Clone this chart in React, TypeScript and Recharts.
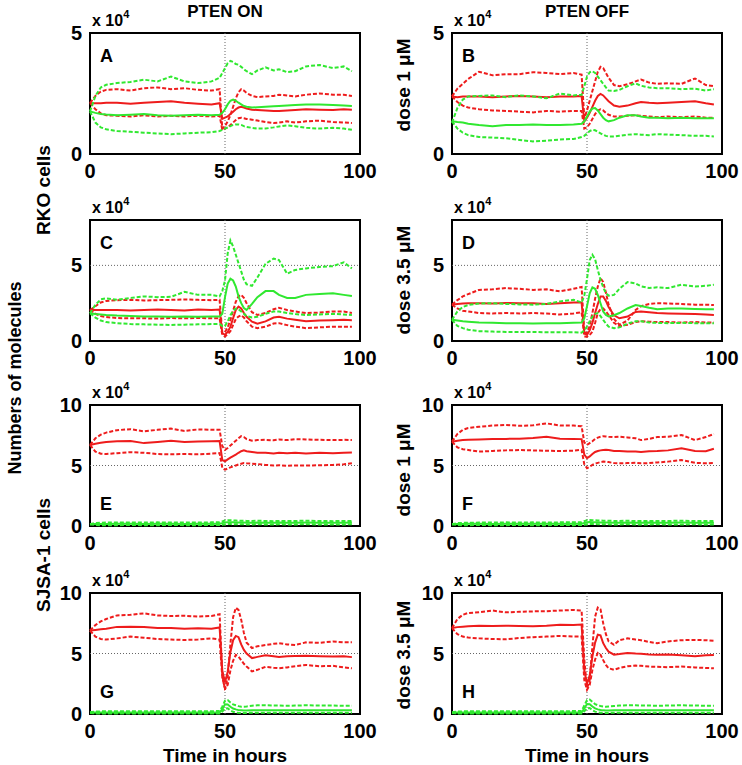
import React from 'react';
import { LineChart, Line, XAxis, YAxis, ReferenceLine, ReferenceArea } from 'recharts';

// time axis shared by every panel (hours)
const hours = [0, 2, 4, 6, 10, 15, 20, 25, 30, 35, 40, 45, 48, 49, 50, 51, 52, 53, 54, 55, 56, 57, 58, 60, 62, 65, 68, 70, 73, 76, 80, 85, 90, 94, 97];

const xTicks = [0, 50, 100];
const yTicksSmall = [0, 5];
const yTicksLarge = [0, 5, 10];

// values in units of 10^4 molecules
const aRedHi = [2.1, 2.4, 2.58, 2.65, 2.68, 2.62, 2.72, 2.75, 2.68, 2.72, 2.65, 2.62, 2.68, 1.05, 1.15, 1.35, 1.6, 1.95, 2.3, 2.55, 2.68, 2.62, 2.52, 2.4, 2.35, 2.38, 2.4, 2.45, 2.42, 2.38, 2.45, 2.5, 2.45, 2.45, 2.4];
const aRedMean = [2.1, 2.1, 2.1, 2.12, 2.12, 2.08, 2.12, 2.15, 2.18, 2.12, 2.08, 2.05, 2.1, 1.45, 1.5, 1.55, 1.65, 1.75, 1.85, 1.92, 1.95, 1.92, 1.88, 1.83, 1.82, 1.8, 1.78, 1.78, 1.8, 1.82, 1.85, 1.83, 1.82, 1.85, 1.83];
const aRedLo = [2.1, 1.85, 1.68, 1.6, 1.58, 1.55, 1.6, 1.55, 1.58, 1.55, 1.58, 1.55, 1.58, 1.0, 1.05, 1.1, 1.2, 1.3, 1.4, 1.48, 1.5, 1.48, 1.45, 1.42, 1.38, 1.32, 1.28, 1.3, 1.35, 1.3, 1.35, 1.38, 1.32, 1.3, 1.28];
const aGreenHi = [1.76, 2.4, 2.75, 2.86, 2.93, 2.98, 3.07, 3.0, 3.2, 3.0, 2.93, 3.0, 3.15, 3.35, 3.55, 3.75, 3.85, 3.8, 3.72, 3.69, 3.6, 3.5, 3.42, 3.3, 3.45, 3.58, 3.45, 3.5, 3.38, 3.42, 3.62, 3.68, 3.55, 3.62, 3.42];
const aGreenMean = [1.76, 1.7, 1.65, 1.63, 1.6, 1.62, 1.65, 1.6, 1.58, 1.6, 1.62, 1.6, 1.62, 1.7, 1.85, 2.05, 2.2, 2.25, 2.2, 2.12, 2.05, 1.98, 1.95, 1.92, 1.93, 1.95, 1.97, 1.98, 2.0, 2.02, 2.05, 2.05, 2.02, 2.0, 1.98];
const aGreenLo = [1.76, 1.3, 1.1, 1.02, 0.95, 0.92, 0.88, 0.85, 0.82, 0.85, 0.88, 0.9, 0.95, 1.0, 1.05, 1.1, 1.15, 1.2, 1.22, 1.22, 1.2, 1.15, 1.12, 1.08, 1.05, 1.05, 1.1, 1.14, 1.18, 1.15, 1.08, 1.05, 1.08, 1.05, 1.0];

const bRedHi = [2.38, 2.7, 2.9, 3.1, 3.4, 3.25, 3.3, 3.3, 3.38, 3.35, 3.3, 3.35, 3.28, 1.5, 1.8, 2.2, 2.6, 3.0, 3.4, 3.6, 3.55, 3.35, 3.15, 2.85, 2.8, 2.88, 3.0, 3.08, 2.95, 2.9, 2.92, 2.9, 3.12, 2.85, 2.8];
const bRedMean = [2.38, 2.35, 2.38, 2.38, 2.38, 2.35, 2.38, 2.4, 2.38, 2.35, 2.38, 2.38, 2.4, 1.35, 1.5, 1.7, 1.95, 2.2, 2.4, 2.48, 2.42, 2.3, 2.18, 2.0, 1.95, 2.0, 2.1, 2.15, 2.12, 2.1, 2.12, 2.15, 2.18, 2.1, 2.05];
const bRedLo = [2.38, 2.15, 2.0, 1.92, 1.85, 1.8, 1.78, 1.75, 1.72, 1.78, 1.75, 1.78, 1.78, 1.05, 1.1, 1.25, 1.45, 1.65, 1.8, 1.85, 1.8, 1.7, 1.62, 1.55, 1.55, 1.58, 1.6, 1.58, 1.55, 1.52, 1.55, 1.52, 1.55, 1.5, 1.5];
const bGreenHi = [1.3, 1.9, 2.25, 2.38, 2.4, 2.42, 2.35, 2.42, 2.38, 2.3, 2.5, 2.42, 2.45, 2.8, 3.2, 3.38, 3.42, 3.35, 3.2, 3.05, 2.9, 2.75, 2.62, 2.6, 2.65, 2.8, 2.92, 2.82, 2.75, 2.72, 2.72, 2.68, 2.7, 2.62, 2.68];
const bGreenMean = [1.35, 1.32, 1.3, 1.25, 1.2, 1.15, 1.2, 1.2, 1.22, 1.2, 1.2, 1.22, 1.25, 1.35, 1.55, 1.75, 1.88, 1.9, 1.8, 1.65, 1.5, 1.4, 1.35, 1.4, 1.5, 1.6, 1.6, 1.55, 1.5, 1.5, 1.48, 1.5, 1.48, 1.48, 1.48];
const bGreenLo = [1.35, 1.05, 0.88, 0.78, 0.7, 0.68, 0.65, 0.58, 0.52, 0.55, 0.6, 0.62, 0.7, 0.75, 0.85, 0.95, 1.0, 0.98, 0.92, 0.85, 0.8, 0.75, 0.72, 0.72, 0.75, 0.8, 0.82, 0.8, 0.78, 0.82, 0.8, 0.78, 0.75, 0.75, 0.72];

const cRedHi = [2.05, 2.3, 2.55, 2.65, 2.7, 2.72, 2.68, 2.7, 2.72, 2.75, 2.72, 2.7, 2.72, 0.55, 0.6, 0.9, 1.4, 2.0, 2.6, 2.95, 3.05, 2.85, 2.5, 1.9, 1.72, 1.85, 2.1, 2.2, 2.05, 1.95, 1.85, 1.88, 1.95, 1.95, 1.85];
const cRedMean = [2.05, 2.05, 2.05, 2.05, 2.05, 2.02, 2.05, 2.08, 2.05, 2.02, 2.08, 2.05, 2.08, 0.5, 0.42, 0.6, 0.95, 1.5, 2.05, 2.28, 2.15, 1.85, 1.6, 1.28, 1.15, 1.3, 1.55, 1.6, 1.48, 1.4, 1.3, 1.35, 1.38, 1.4, 1.38];
const cRedLo = [2.05, 1.8, 1.65, 1.58, 1.52, 1.5, 1.5, 1.48, 1.52, 1.5, 1.52, 1.5, 1.5, 0.4, 0.3, 0.45, 0.65, 1.05, 1.45, 1.62, 1.7, 1.55, 1.3, 0.95, 0.85, 0.95, 1.15, 1.18, 1.05, 0.95, 0.85, 0.9, 0.95, 0.95, 0.95];
const cGreenHi = [1.83, 2.4, 2.75, 2.82, 2.72, 2.85, 2.95, 2.9, 2.92, 3.25, 3.05, 3.05, 2.95, 3.3, 4.0, 5.8, 6.65, 6.25, 5.7, 5.15, 4.6, 4.05, 3.75, 3.65, 4.2, 5.1, 5.45, 5.35, 4.45, 4.7, 4.8, 4.9, 4.95, 5.2, 4.8];
const cGreenMean = [1.83, 1.78, 1.75, 1.72, 1.68, 1.65, 1.62, 1.62, 1.6, 1.62, 1.6, 1.62, 1.62, 1.8, 2.9, 3.8, 4.12, 4.0, 3.6, 2.95, 2.5, 2.18, 2.05, 2.45, 2.9, 3.3, 3.3, 3.05, 2.85, 2.85, 3.05, 3.1, 3.15, 3.05, 2.97];
const cGreenLo = [1.83, 1.55, 1.35, 1.25, 1.18, 1.12, 1.1, 1.08, 1.06, 1.08, 1.1, 1.12, 1.12, 1.0, 1.0, 1.3, 1.7, 2.0, 2.15, 2.1, 1.95, 1.8, 1.65, 1.55, 1.6, 1.8, 1.95, 1.95, 1.85, 1.78, 1.72, 1.75, 1.8, 1.75, 1.72];

const dRedHi = [2.4, 2.7, 2.95, 3.1, 3.38, 3.42, 3.5, 3.45, 3.38, 3.42, 3.28, 3.45, 3.57, 0.62, 0.5, 1.0, 1.85, 2.8, 3.6, 4.15, 3.9, 3.2, 2.4, 1.45, 1.08, 1.35, 2.05, 2.3, 2.45, 2.5, 2.48, 2.45, 2.4, 2.4, 2.38];
const dRedMean = [2.4, 2.45, 2.48, 2.5, 2.5, 2.48, 2.52, 2.5, 2.5, 2.45, 2.5, 2.55, 2.55, 0.5, 0.4, 0.7, 1.2, 1.85, 2.45, 2.95, 2.95, 2.65, 2.25, 1.7, 1.5, 1.62, 1.92, 1.95, 1.9, 1.85, 1.82, 1.8, 1.78, 1.75, 1.72];
const dRedLo = [2.4, 2.15, 2.0, 1.95, 1.85, 1.82, 1.85, 1.82, 1.85, 1.82, 1.75, 1.82, 1.9, 0.3, 0.28, 0.4, 0.62, 1.2, 1.85, 2.1, 2.15, 1.95, 1.72, 1.2, 0.98, 1.08, 1.25, 1.3, 1.28, 1.25, 1.25, 1.22, 1.25, 1.22, 1.22];
const dGreenHi = [1.4, 1.95, 2.25, 2.38, 2.48, 2.5, 2.45, 2.42, 2.4, 2.45, 2.62, 2.72, 2.55, 3.0, 4.1, 5.35, 5.7, 5.4, 4.7, 4.05, 3.55, 3.15, 3.0, 3.05, 3.45, 3.9, 3.8, 3.62, 3.5, 3.55, 3.5, 3.72, 3.6, 3.65, 3.72];
const dGreenMean = [1.4, 1.35, 1.3, 1.28, 1.22, 1.2, 1.18, 1.18, 1.15, 1.18, 1.18, 1.2, 1.22, 1.5, 2.3, 3.15, 3.55, 3.45, 3.05, 2.5, 1.95, 1.72, 1.62, 1.7, 1.85, 2.15, 2.38, 2.32, 2.2, 2.1, 2.15, 2.15, 2.12, 2.1, 2.1];
const dGreenLo = [1.4, 1.0, 0.85, 0.75, 0.65, 0.62, 0.6, 0.6, 0.6, 0.58, 0.58, 0.58, 0.55, 0.7, 0.95, 1.3, 1.62, 1.8, 1.85, 1.65, 1.4, 1.15, 0.95, 0.85, 0.9, 1.15, 1.3, 1.3, 1.22, 1.2, 1.18, 1.2, 1.18, 1.18, 1.17];

const eRedHi = [6.7, 7.25, 7.55, 7.72, 7.92, 8.0, 7.82, 7.95, 8.05, 7.85, 7.98, 7.95, 7.95, 6.6, 6.3, 6.45, 6.65, 6.85, 7.05, 7.25, 7.42, 7.35, 7.18, 7.05, 7.1, 7.12, 7.08, 7.15, 7.1, 7.18, 7.15, 7.12, 7.1, 7.12, 7.1];
const eRedMean = [6.7, 6.8, 6.88, 6.95, 7.0, 7.02, 6.85, 6.95, 7.05, 6.95, 6.98, 7.0, 7.02, 5.45, 5.35, 5.5, 5.65, 5.78, 5.9, 6.05, 6.18, 6.25, 6.18, 6.12, 6.05, 6.05, 6.0, 6.05, 6.02, 6.05, 6.0, 6.05, 6.02, 6.05, 6.08];
const eRedLo = [6.7, 6.15, 5.98, 5.95, 6.02, 6.1, 6.05, 5.95, 5.92, 5.95, 5.92, 5.98, 6.02, 4.8, 4.65, 4.75, 4.85, 4.92, 5.0, 5.08, 5.15, 5.2, 5.18, 5.15, 5.12, 5.05, 5.0, 5.02, 4.98, 5.0, 5.0, 5.02, 5.05, 5.1, 5.18];
const eGreenHi = [0.15, 0.25, 0.27, 0.28, 0.28, 0.3, 0.28, 0.3, 0.28, 0.3, 0.29, 0.3, 0.3, 0.38, 0.46, 0.48, 0.47, 0.46, 0.45, 0.44, 0.44, 0.43, 0.42, 0.42, 0.43, 0.42, 0.4, 0.42, 0.41, 0.42, 0.43, 0.42, 0.4, 0.42, 0.42];
const eGreenMean = [0.15, 0.16, 0.17, 0.17, 0.18, 0.18, 0.17, 0.18, 0.18, 0.17, 0.18, 0.18, 0.18, 0.24, 0.3, 0.32, 0.31, 0.3, 0.29, 0.28, 0.28, 0.28, 0.27, 0.27, 0.28, 0.27, 0.27, 0.28, 0.27, 0.27, 0.28, 0.27, 0.27, 0.27, 0.28];
const eGreenLo = [0.15, 0.08, 0.07, 0.07, 0.07, 0.08, 0.07, 0.07, 0.08, 0.07, 0.07, 0.08, 0.08, 0.1, 0.14, 0.16, 0.16, 0.15, 0.15, 0.14, 0.14, 0.14, 0.13, 0.13, 0.14, 0.13, 0.13, 0.14, 0.13, 0.13, 0.14, 0.13, 0.13, 0.13, 0.14];

const fRedHi = [6.97, 7.6, 7.95, 8.1, 8.2, 8.3, 8.35, 8.28, 8.32, 8.48, 8.3, 8.3, 8.25, 6.9, 6.7, 6.85, 7.0, 7.2, 7.3, 7.38, 7.42, 7.4, 7.38, 7.35, 7.38, 7.32, 7.25, 7.1, 7.2, 7.35, 7.38, 7.52, 7.1, 7.35, 7.6];
const fRedMean = [6.97, 7.05, 7.1, 7.12, 7.15, 7.18, 7.2, 7.22, 7.28, 7.38, 7.22, 7.2, 7.18, 5.9, 5.6, 5.75, 5.95, 6.12, 6.2, 6.25, 6.28, 6.3, 6.28, 6.2, 6.2, 6.15, 6.15, 6.12, 6.18, 6.2, 6.25, 6.42, 6.2, 6.18, 6.38];
const fRedLo = [6.97, 6.5, 6.35, 6.28, 6.15, 6.2, 6.25, 6.28, 6.25, 6.22, 6.2, 6.22, 6.3, 5.1, 4.78, 4.9, 5.05, 5.15, 5.22, 5.28, 5.32, 5.3, 5.28, 5.2, 5.18, 5.2, 5.22, 5.18, 5.2, 5.25, 5.32, 5.45, 5.22, 5.18, 5.2];
const fGreenHi = [0.15, 0.24, 0.26, 0.27, 0.28, 0.28, 0.3, 0.29, 0.3, 0.28, 0.3, 0.3, 0.31, 0.4, 0.48, 0.5, 0.48, 0.47, 0.46, 0.45, 0.44, 0.44, 0.43, 0.42, 0.42, 0.43, 0.41, 0.42, 0.42, 0.41, 0.42, 0.43, 0.41, 0.42, 0.42];
const fGreenMean = [0.15, 0.16, 0.17, 0.18, 0.18, 0.17, 0.18, 0.18, 0.18, 0.18, 0.18, 0.18, 0.19, 0.25, 0.31, 0.33, 0.32, 0.31, 0.3, 0.29, 0.28, 0.28, 0.28, 0.27, 0.27, 0.28, 0.27, 0.27, 0.28, 0.27, 0.27, 0.28, 0.27, 0.27, 0.27];
const fGreenLo = [0.15, 0.08, 0.07, 0.07, 0.08, 0.07, 0.07, 0.08, 0.07, 0.07, 0.08, 0.07, 0.08, 0.11, 0.15, 0.17, 0.16, 0.16, 0.15, 0.15, 0.14, 0.14, 0.14, 0.13, 0.13, 0.14, 0.13, 0.13, 0.13, 0.14, 0.13, 0.13, 0.14, 0.13, 0.13];

const gRedHi = [6.9, 7.35, 7.65, 7.85, 8.15, 8.2, 8.32, 8.15, 8.1, 8.12, 8.05, 8.1, 8.25, 3.2, 2.0, 3.1, 5.8, 8.0, 8.78, 8.6, 7.8, 6.7, 5.9, 5.45, 5.6, 5.7, 5.8, 5.85, 5.75, 5.7, 5.92, 5.88, 6.0, 5.92, 5.92];
const gRedMean = [6.9, 6.95, 7.0, 7.05, 7.2, 7.22, 7.18, 7.1, 7.1, 7.05, 7.08, 7.05, 7.15, 3.6, 2.6, 3.5, 5.1, 6.1, 6.45, 6.35, 5.75, 5.3, 5.0, 4.62, 4.72, 4.85, 4.78, 4.72, 4.78, 4.8, 4.82, 4.78, 4.75, 4.78, 4.7];
const gRedLo = [6.9, 6.4, 6.2, 6.15, 6.25, 6.4, 6.3, 6.2, 6.15, 6.12, 6.15, 6.25, 6.15, 3.0, 2.1, 2.4, 3.6, 4.4, 4.88, 4.75, 4.45, 4.15, 3.92, 3.52, 3.65, 3.9, 3.82, 3.78, 3.85, 3.95, 4.05, 3.95, 3.98, 3.85, 3.78];
const gGreenHi = [0.15, 0.2, 0.22, 0.22, 0.23, 0.22, 0.23, 0.22, 0.23, 0.22, 0.23, 0.23, 0.25, 0.6, 1.1, 1.15, 0.95, 0.8, 0.72, 0.65, 0.6, 0.6, 0.62, 0.68, 0.72, 0.72, 0.7, 0.7, 0.68, 0.7, 0.72, 0.7, 0.7, 0.68, 0.68];
const gGreenMean = [0.12, 0.12, 0.12, 0.12, 0.13, 0.12, 0.13, 0.12, 0.12, 0.13, 0.12, 0.13, 0.13, 0.4, 0.8, 0.78, 0.6, 0.45, 0.38, 0.32, 0.3, 0.28, 0.28, 0.3, 0.32, 0.32, 0.3, 0.3, 0.31, 0.3, 0.31, 0.3, 0.3, 0.3, 0.3];
const gGreenLo = [0.08, 0.05, 0.04, 0.04, 0.04, 0.05, 0.04, 0.04, 0.05, 0.04, 0.04, 0.05, 0.05, 0.2, 0.45, 0.48, 0.3, 0.18, 0.12, 0.1, 0.09, 0.09, 0.09, 0.1, 0.1, 0.1, 0.1, 0.1, 0.1, 0.1, 0.1, 0.1, 0.1, 0.1, 0.1];

const hRedHi = [7.1, 7.85, 8.2, 8.35, 8.4, 8.55, 8.4, 8.45, 8.48, 8.5, 8.55, 8.6, 8.55, 4.5, 2.1, 2.8, 5.6, 8.05, 8.8, 8.65, 7.5, 6.6, 6.0, 5.72, 6.1, 6.25, 6.15, 6.1, 5.95, 5.85, 6.0, 6.1, 6.12, 6.1, 6.05];
const hRedMean = [7.1, 7.18, 7.22, 7.25, 7.3, 7.28, 7.3, 7.28, 7.25, 7.3, 7.38, 7.35, 7.4, 3.6, 2.5, 3.2, 4.75, 5.9, 6.55, 6.5, 5.85, 5.45, 5.15, 4.9, 4.95, 5.05, 5.0, 4.98, 4.92, 4.9, 4.92, 4.85, 4.78, 4.85, 4.88];
const hRedLo = [7.1, 6.6, 6.4, 6.32, 6.25, 6.2, 6.18, 6.28, 6.35, 6.4, 6.45, 6.4, 6.4, 2.8, 2.0, 2.4, 3.65, 4.5, 5.05, 4.9, 4.45, 4.05, 3.78, 3.65, 3.8, 3.95, 4.0, 3.98, 3.92, 3.9, 3.87, 3.92, 3.85, 3.8, 3.78];
const hGreenHi = [0.15, 0.2, 0.22, 0.23, 0.22, 0.23, 0.22, 0.23, 0.23, 0.22, 0.23, 0.24, 0.25, 0.7, 1.15, 1.2, 1.0, 0.82, 0.72, 0.66, 0.62, 0.6, 0.62, 0.66, 0.7, 0.72, 0.72, 0.7, 0.7, 0.68, 0.7, 0.72, 0.7, 0.68, 0.68];
const hGreenMean = [0.12, 0.12, 0.12, 0.13, 0.12, 0.13, 0.12, 0.13, 0.12, 0.12, 0.13, 0.13, 0.13, 0.45, 0.82, 0.8, 0.62, 0.46, 0.38, 0.33, 0.3, 0.29, 0.28, 0.3, 0.31, 0.32, 0.31, 0.3, 0.3, 0.31, 0.3, 0.3, 0.31, 0.3, 0.3];
const hGreenLo = [0.08, 0.05, 0.04, 0.04, 0.05, 0.04, 0.04, 0.05, 0.04, 0.04, 0.05, 0.04, 0.05, 0.22, 0.46, 0.5, 0.32, 0.2, 0.13, 0.1, 0.1, 0.09, 0.09, 0.1, 0.1, 0.1, 0.1, 0.1, 0.1, 0.1, 0.1, 0.1, 0.1, 0.1, 0.1];

const RED = '#ee1c1c';
const GREEN = '#30e830';
const FONT = '"Liberation Sans", Arial, Helvetica, sans-serif';

const COL_X = [90, 452];
const ROW_Y = [33, 220, 405, 593];
const PLOT_W = 270;
const PLOT_H = 121;

const panels = [
  { id: 'A', col: 0, row: 0, yMax: 5, yTicks: yTicksSmall, red: [aRedHi, aRedMean, aRedLo], green: [aGreenHi, aGreenMean, aGreenLo] },
  { id: 'B', col: 1, row: 0, yMax: 5, yTicks: yTicksSmall, red: [bRedHi, bRedMean, bRedLo], green: [bGreenHi, bGreenMean, bGreenLo] },
  { id: 'C', col: 0, row: 1, yMax: 8, yTicks: yTicksSmall, red: [cRedHi, cRedMean, cRedLo], green: [cGreenHi, cGreenMean, cGreenLo] },
  { id: 'D', col: 1, row: 1, yMax: 8, yTicks: yTicksSmall, red: [dRedHi, dRedMean, dRedLo], green: [dGreenHi, dGreenMean, dGreenLo] },
  { id: 'E', col: 0, row: 2, yMax: 10, yTicks: yTicksLarge, red: [eRedHi, eRedMean, eRedLo], green: [eGreenHi, eGreenMean, eGreenLo] },
  { id: 'F', col: 1, row: 2, yMax: 10, yTicks: yTicksLarge, red: [fRedHi, fRedMean, fRedLo], green: [fGreenHi, fGreenMean, fGreenLo] },
  { id: 'G', col: 0, row: 3, yMax: 10, yTicks: yTicksLarge, red: [gRedHi, gRedMean, gRedLo], green: [gGreenHi, gGreenMean, gGreenLo] },
  { id: 'H', col: 1, row: 3, yMax: 10, yTicks: yTicksLarge, red: [hRedHi, hRedMean, hRedLo], green: [hGreenHi, hGreenMean, hGreenLo] },
];

const tickStyle = { fontSize: 20, fontWeight: 'bold', fill: '#000', fontFamily: FONT };
const seriesKeys = ['rHi', 'rMean', 'rLo', 'gHi', 'gMean', 'gLo'];

const Panel = ({ p }: { p: (typeof panels)[number] }) => {
  const rows = hours.map((t, i) => ({
    t,
    rHi: p.red[0][i],
    rMean: p.red[1][i],
    rLo: p.red[2][i],
    gHi: p.green[0][i],
    gMean: p.green[1][i],
    gLo: p.green[2][i],
  }));
  const left = COL_X[p.col];
  const top = ROW_Y[p.row];
  return (
    <div style={{ position: 'absolute', left: left - 60, top: top - 10 }}>
      <LineChart width={PLOT_W + 100} height={PLOT_H + 50} data={rows} margin={{ top: 10, right: 40, bottom: 0, left: 0 }}>
        <XAxis type="number" dataKey="t" domain={[0, 100]} ticks={xTicks} interval={0} tickLine={false} axisLine={false} tickMargin={4} height={40} tick={tickStyle} />
        <YAxis type="number" domain={[0, p.yMax]} ticks={p.yTicks} interval={0} tickLine={false} axisLine={false} width={60} tick={tickStyle} />
        <ReferenceLine x={50} stroke="#666" strokeDasharray="1 2" strokeWidth={1} />
        {p.yMax > 5 && <ReferenceLine y={5} stroke="#666" strokeDasharray="1 2" strokeWidth={1} />}
        {seriesKeys.map((k) => (
          <Line
            key={k}
            type="linear"
            dataKey={k}
            stroke={k[0] === 'r' ? RED : GREEN}
            strokeWidth={2}
            strokeDasharray={k.endsWith('Mean') ? undefined : '4 2'}
            dot={false}
            isAnimationActive={false}
          />
        ))}
        <ReferenceArea x1={0} x2={100} y1={0} y2={p.yMax} fill="none" fillOpacity={0} stroke="#000" strokeWidth={2} />
      </LineChart>
    </div>
  );
};

const boldText = { fontFamily: FONT, fontWeight: 'bold' as const, fill: '#000' };

export default function App() {
  return (
    <div style={{ position: 'absolute', left: 0, top: 0, width: 742, height: 765, background: '#fff', overflow: 'hidden' }}>
      {panels.map((p) => (
        <Panel key={p.id} p={p} />
      ))}
      <svg width={742} height={765} style={{ position: 'absolute', left: 0, top: 0, pointerEvents: 'none' }}>
        <text x={225} y={17} textAnchor="middle" fontSize={17} {...boldText}>PTEN ON</text>
        <text x={587} y={17} textAnchor="middle" fontSize={17} {...boldText}>PTEN OFF</text>
        {panels.map((p) => {
          const left = COL_X[p.col];
          const top = ROW_Y[p.row];
          const letterY = p.row < 2 ? top + 29 : top + PLOT_H - 16;
          return (
            <g key={p.id}>
              <text x={left + 2} y={top - 7} fontSize={16} {...boldText}>
                x 10<tspan fontSize={11} dy={-8}>4</tspan>
              </text>
              <text x={left + 10} y={letterY} fontSize={18} {...boldText}>{p.id}</text>
            </g>
          );
        })}
        <text x={15} y={378} transform="rotate(-90 15 378)" textAnchor="middle" dominantBaseline="central" fontSize={18} {...boldText}>Numbers of molecules</text>
        <text x={43} y={190} transform="rotate(-90 43 190)" textAnchor="middle" dominantBaseline="central" fontSize={19} {...boldText}>RKO cells</text>
        <text x={43} y={555} transform="rotate(-90 43 555)" textAnchor="middle" dominantBaseline="central" fontSize={19} {...boldText}>SJSA-1 cells</text>
        <text x={403} y={85} transform="rotate(-90 403 85)" textAnchor="middle" dominantBaseline="central" fontSize={19} {...boldText}>dose 1 μM</text>
        <text x={403} y={280} transform="rotate(-90 403 280)" textAnchor="middle" dominantBaseline="central" fontSize={19} {...boldText}>dose 3.5 μM</text>
        <text x={403} y={470} transform="rotate(-90 403 470)" textAnchor="middle" dominantBaseline="central" fontSize={19} {...boldText}>dose 1 μM</text>
        <text x={403} y={655} transform="rotate(-90 403 655)" textAnchor="middle" dominantBaseline="central" fontSize={19} {...boldText}>dose 3.5 μM</text>
        <text x={225} y={762} textAnchor="middle" fontSize={19} {...boldText}>Time in hours</text>
        <text x={587} y={762} textAnchor="middle" fontSize={19} {...boldText}>Time in hours</text>
      </svg>
    </div>
  );
}
